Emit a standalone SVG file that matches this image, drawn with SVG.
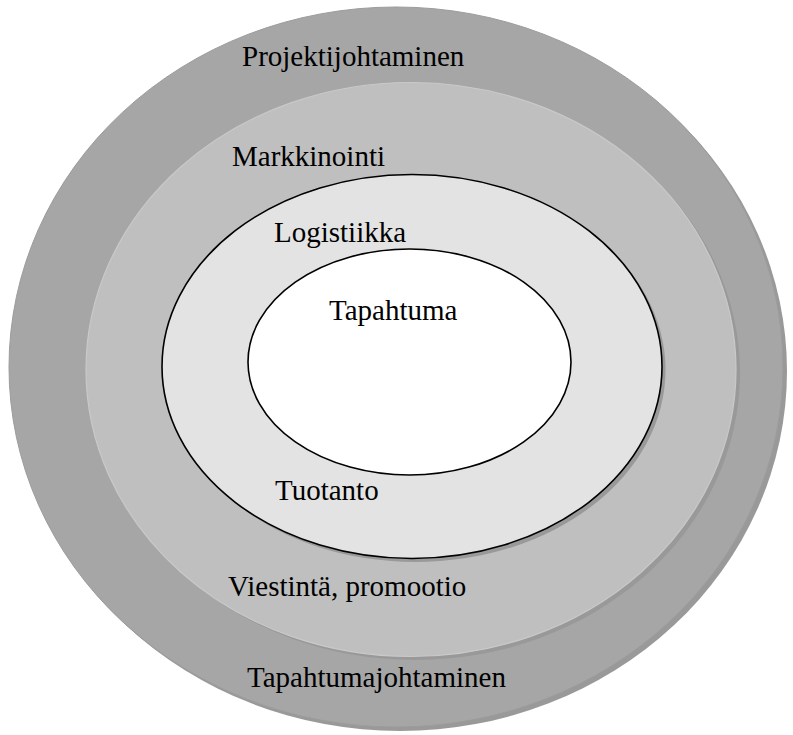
<svg xmlns="http://www.w3.org/2000/svg" width="793" height="735" viewBox="0 0 793 735">
<style>
.t{font-family:"Liberation Serif","Times New Roman",serif;font-size:29px;fill:#000}
.sh{fill:#999999}
</style>
<rect width="793" height="735" fill="#ffffff"/>
<g id="projektijohtaminen">
<ellipse class="sh" cx="400" cy="371" rx="387" ry="360"/>
<ellipse cx="396" cy="367" rx="387" ry="360" fill="#a6a6a6" stroke="#9c9c9c" stroke-width="1"/>
<text class="t" x="242" y="66">Projektijohtaminen</text>
<text class="t" x="247" y="687">Tapahtumajohtaminen</text>
</g>
<g id="markkinointi">
<ellipse class="sh" cx="415" cy="373" rx="325" ry="287"/>
<ellipse cx="411" cy="369.5" rx="325" ry="287" fill="#bfbfbf" stroke="#c9c9c9" stroke-width="1.2"/>
<text class="t" x="232" y="166">Markkinointi</text>
<text class="t" x="228" y="596">Viestintä, promootio</text>
</g>
<g id="logistiikka">
<ellipse class="sh" cx="415.5" cy="370" rx="250" ry="192"/>
<ellipse cx="412" cy="366.5" rx="250" ry="192" fill="#e3e3e3" stroke="#000" stroke-width="1.6"/>
<text class="t" x="274" y="242">Logistiikka</text>
<text class="t" x="275" y="500">Tuotanto</text>
</g>
<g id="tapahtuma">
<ellipse cx="409.5" cy="362" rx="161.5" ry="113" fill="#ffffff" stroke="#000" stroke-width="1.6"/>
<text class="t" x="329" y="320">Tapahtuma</text>
</g>
</svg>
